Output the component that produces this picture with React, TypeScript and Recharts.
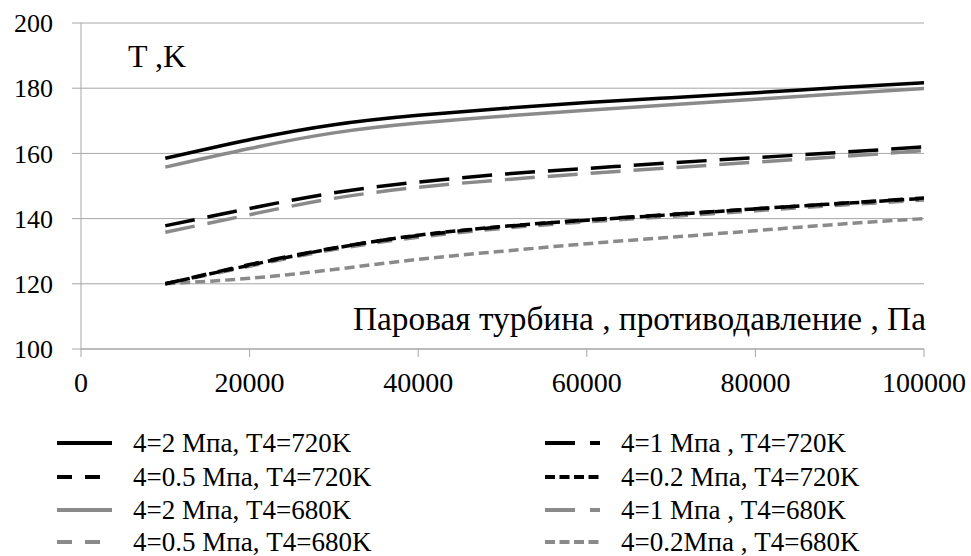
import { CartesianGrid, Line, LineChart, XAxis, YAxis } from "recharts";

const SERIF = "Liberation Serif, Times New Roman, serif";
const BLACK = "#000000";
const GRAY = "#8a8a8a";
const AXIS = "#a6a6a6";

// backpressure, Pa
const pressure = [10000, 20000, 30000, 40000, 50000, 60000, 70000, 80000, 90000, 100000];

// T, K
const t2_720 = [158.5, 164.2, 168.8, 171.7, 173.8, 175.6, 177.1, 178.6, 180.2, 181.7];
const t1_720 = [137.8, 143.1, 147.9, 151.2, 153.6, 155.4, 157.1, 158.7, 160.3, 162.0];
const t05_720 = [120.0, 125.9, 131.0, 134.8, 137.5, 139.6, 141.3, 143.0, 144.7, 146.3];
const t02_720 = [120.0, 125.7, 130.9, 134.9, 137.6, 139.5, 141.2, 143.0, 144.6, 146.2];
const t2_680 = [155.8, 161.5, 166.3, 169.3, 171.4, 173.2, 174.9, 176.6, 178.3, 179.9];
const t1_680 = [135.8, 141.2, 146.2, 149.6, 151.9, 153.8, 155.6, 157.3, 159.0, 160.9];
const t05_680 = [120.0, 125.4, 130.5, 134.3, 137.0, 139.0, 140.7, 142.4, 144.1, 145.7];
const t02_680 = [120.0, 121.7, 124.4, 127.5, 130.0, 132.3, 134.3, 136.3, 138.3, 140.0];

const xTicks = [0, 20000, 40000, 60000, 80000, 100000];
const yTicks = [100, 120, 140, 160, 180, 200];

const series = [
  { key: "t2_680", name: "4=2 Мпа, T4=680K", values: t2_680, color: GRAY, dash: undefined, legendDash: undefined, col: 0, row: 2 },
  { key: "t1_680", name: "4=1 Мпа , T4=680K", values: t1_680, color: GRAY, dash: "30 13", legendDash: "30 15", col: 1, row: 2 },
  { key: "t05_680", name: "4=0.5 Мпа, T4=680K", values: t05_680, color: GRAY, dash: "15 12", legendDash: "15 13", col: 0, row: 3 },
  { key: "t02_680", name: "4=0.2Мпа , T4=680K", values: t02_680, color: GRAY, dash: "10 5", legendDash: "10 4.5", col: 1, row: 3 },
  { key: "t2_720", name: "4=2 Мпа, T4=720K", values: t2_720, color: BLACK, dash: undefined, legendDash: undefined, col: 0, row: 0 },
  { key: "t1_720", name: "4=1 Мпа , T4=720K", values: t1_720, color: BLACK, dash: "30 13", legendDash: "30 15", col: 1, row: 0 },
  { key: "t05_720", name: "4=0.5 Мпа, T4=720K", values: t05_720, color: BLACK, dash: "15 12", legendDash: "15 13", col: 0, row: 1 },
  { key: "t02_720", name: "4=0.2 Мпа, T4=720K", values: t02_720, color: BLACK, dash: "10 5", legendDash: "10 4.5", col: 1, row: 1 },
];

const data = pressure.map((p, i) => {
  const row: Record<string, number> = { p };
  series.forEach((s) => (row[s.key] = s.values[i]));
  return row;
});

const legendRows = [443, 477, 510, 542];
const legendCols = [57, 545];

function ChartLegend() {
  return (
    <svg width={971} height={556} style={{ position: "absolute", left: 0, top: 0, pointerEvents: "none" }}>
      {series.map((s) => {
        const x = legendCols[s.col];
        const y = legendRows[s.row];
        return (
          <g key={s.key}>
            <line x1={x} x2={x + 55} y1={y} y2={y} stroke={s.color} strokeWidth={4} strokeDasharray={s.legendDash} />
            <text x={x + 76} y={y} dy="0.34em" style={{ fontFamily: SERIF, fontSize: 27 }} fill="#000">
              {s.name}
            </text>
          </g>
        );
      })}
    </svg>
  );
}

export default function App() {
  return (
    <div style={{ position: "absolute", left: 0, top: 0, width: 971, height: 556, background: "#fff", fontFamily: SERIF }}>
      <LineChart width={971} height={556} data={data} margin={{ top: 23, right: 47, left: 0, bottom: 162 }}>
        <CartesianGrid vertical={false} stroke={AXIS} />
        <XAxis
          dataKey="p"
          type="number"
          domain={[0, 100000]}
          ticks={xTicks}
          height={45}
          stroke={AXIS}
          tickSize={8}
          tickMargin={15}
          tick={{ fill: "#000", fontSize: 28, style: { fontFamily: SERIF } }}
        />
        <YAxis
          type="number"
          domain={[100, 200]}
          ticks={yTicks}
          width={81}
          stroke={AXIS}
          tickSize={9}
          tickMargin={19}
          tick={{ fill: "#000", fontSize: 26, style: { fontFamily: SERIF } }}
        />
        {series.map((s) => (
          <Line
            key={s.key}
            dataKey={s.key}
            name={s.name}
            type="natural"
            stroke={s.color}
            strokeWidth={3.5}
            strokeDasharray={s.dash}
            dot={false}
            activeDot={false}
            isAnimationActive={false}
          />
        ))}
        <text x={128} y={67} style={{ fontFamily: SERIF, fontSize: 32 }} fill="#000">
          T ,K
        </text>
        <text
          x={353}
          y={330}
          textLength={573}
          lengthAdjust="spacingAndGlyphs"
          style={{ fontFamily: SERIF, fontSize: 33 }}
          fill="#000"
        >
          Паровая турбина , противодавление , Па
        </text>
      </LineChart>
      <ChartLegend />
    </div>
  );
}
